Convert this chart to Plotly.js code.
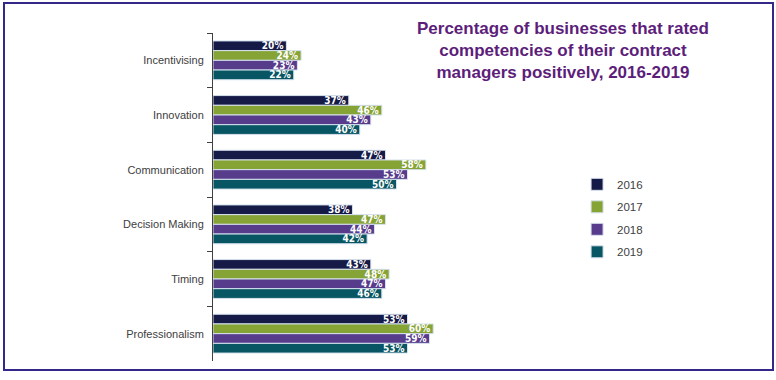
<!DOCTYPE html>
<html>
<head>
<meta charset="utf-8">
<script src="https://cdn.plot.ly/plotly-3.0.1.min.js"></script>
<style>
html,body{margin:0;padding:0;background:#fff;}
#wrap{position:relative;width:776px;height:380px;}
#chart{position:absolute;left:0;top:0;width:776px;height:380px;}
#frame{position:absolute;left:3px;top:2px;width:767px;height:365px;border:2px solid #33288a;pointer-events:none;}
</style>
</head>
<body>
<div id="wrap"><div id="chart"></div><div id="frame"></div></div>
<script>
const categories = ["Incentivising", "Innovation", "Communication", "Decision Making", "Timing", "Professionalism"];
const years = ["2016", "2017", "2018", "2019"];
const v2016 = [20, 37, 47, 38, 43, 53];
const v2017 = [24, 46, 58, 47, 48, 60];
const v2018 = [23, 43, 53, 44, 47, 59];
const v2019 = [22, 40, 50, 42, 46, 53];
const colors = ["#151a47", "#86a336", "#573c8c", "#085663"];
const titleText = "Percentage of businesses that rated<br>competencies of their contract<br>managers positively, 2016-2019";

const series = [v2016, v2017, v2018, v2019];
const data = series.map((vals, i) => ({
  type: "bar",
  orientation: "h",
  name: years[i],
  legendgroup: years[i],
  y: categories,
  x: vals,
  text: vals.map(v => v + "%"),
  textposition: "inside",
  insidetextanchor: "end",
  constraintext: "none",
  textfont: {family: "DejaVu Sans Condensed, Liberation Sans Narrow, Arial", size: 10, color: "#ffffff", weight: "bold"},
  marker: {color: colors[i], line: {color: "#d6e2ee", width: 1}},
  hoverinfo: "skip"
}));

const layout = {
  width: 776, height: 380,
  margin: {l: 213, r: 195.5, t: 33, b: 19, pad: 0},
  paper_bgcolor: "#ffffff", plot_bgcolor: "#ffffff",
  barmode: "group",
  bargap: 0.29,
  bargroupgap: 0,
  showlegend: true,
  legend: {
    x: 0.992, xanchor: "left", y: 0.435, yanchor: "middle",
    traceorder: "grouped", tracegroupgap: 3.5,
    font: {family: "Liberation Sans, Arial", size: 11.5, color: "#404040"},
    itemwidth: 30
  },
  annotations: [{
    text: titleText,
    xref: "paper", yref: "paper",
    x: 0.955, y: 1.05, xanchor: "center", yanchor: "top",
    align: "center", showarrow: false,
    font: {family: "Liberation Sans, Arial", size: 17, color: "#5c1e7a", weight: "bold"}
  }],
  xaxis: {range: [0, 100], visible: false, showgrid: false, zeroline: false, fixedrange: true},
  yaxis: {
    autorange: "reversed",
    tickson: "boundaries",
    ticks: "outside", ticklen: 5, tickcolor: "#404040", tickwidth: 1,
    showline: true, linecolor: "#404040", linewidth: 1,
    showgrid: false, zeroline: false,
    ticklabelstandoff: 6,
    tickfont: {family: "Liberation Sans, Arial", size: 11, color: "#404040"}
  }
};

Plotly.newPlot("chart", data, layout, {displayModeBar: false, staticPlot: true});
</script>
</body>
</html>
